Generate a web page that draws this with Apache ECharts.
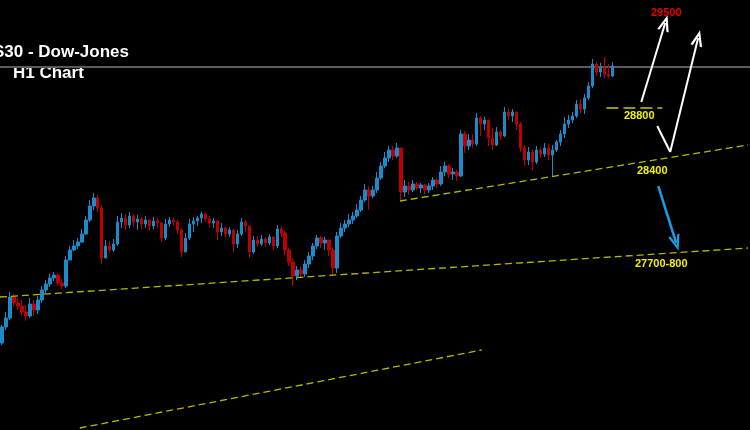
<!DOCTYPE html>
<html>
<head>
<meta charset="utf-8">
<script src="https://cdn.jsdelivr.net/npm/echarts@6/dist/echarts.min.js"></script>
<style>
  html, body { margin: 0; padding: 0; background: #000; }
  #chart { width: 750px; height: 430px; }
</style>
</head>
<body>
<div id="chart"></div>
<script>
// H1 candles, US30 (price units)
const firstOpen = 26956;
const closes = [27084, 27156, 27324, 27276, 27252, 27204, 27172, 27268, 27220, 27300,
  27380, 27428, 27476, 27500, 27436, 27412, 27620, 27700, 27732, 27764,
  27828, 27940, 28052, 28116, 28036, 27636, 27732, 27700, 27748, 27924,
  27956, 27900, 27972, 27924, 27948, 27908, 27940, 27892, 27932, 27916,
  27796, 27908, 27940, 27924, 27860, 27684, 27796, 27908, 27932, 27956,
  27988, 27948, 27916, 27932, 27844, 27876, 27828, 27860, 27748, 27828,
  27924, 27892, 27684, 27780, 27748, 27788, 27756, 27804, 27732, 27868,
  27836, 27700, 27604, 27492, 27540, 27508, 27588, 27652, 27732, 27796,
  27756, 27780, 27700, 27556, 27812, 27876, 27908, 27940, 27972, 28020,
  28100, 28180, 28132, 28180, 28276, 28372, 28436, 28500, 28452, 28516,
  28164, 28212, 28180, 28228, 28196, 28220, 28180, 28212, 28260, 28228,
  28324, 28372, 28308, 28324, 28292, 28628, 28532, 28580, 28548, 28756,
  28708, 28740, 28596, 28540, 28644, 28612, 28804, 28772, 28804, 28708,
  28516, 28420, 28484, 28404, 28500, 28468, 28516, 28460, 28500, 28564,
  28628, 28708, 28740, 28772, 28868, 28828, 28916, 29012, 29188, 29124,
  29156, 29108, 29092, 29172];
const highs = [27100, 27204, 27364, 27348, 27316, 27300, 27260, 27316, 27300, 27332,
  27412, 27460, 27508, 27524, 27516, 27468, 27652, 27732, 27780, 27796,
  27868, 27972, 28100, 28156, 28140, 28060, 27780, 27772, 27788, 27972,
  27996, 27988, 28004, 27988, 27980, 27964, 27972, 27948, 27964, 27956,
  27924, 27948, 27964, 27956, 27940, 27876, 27836, 27948, 27964, 27972,
  28004, 27996, 27972, 27956, 27940, 27916, 27884, 27884, 27868, 27860,
  27956, 27940, 27892, 27812, 27812, 27820, 27804, 27828, 27812, 27900,
  27892, 27852, 27716, 27636, 27572, 27564, 27620, 27684, 27756, 27820,
  27812, 27804, 27780, 27724, 27844, 27916, 27940, 27988, 28004, 28068,
  28132, 28228, 28212, 28212, 28324, 28404, 28484, 28532, 28532, 28556,
  28500, 28260, 28244, 28260, 28244, 28236, 28228, 28236, 28284, 28276,
  28372, 28404, 28388, 28356, 28340, 28660, 28652, 28628, 28628, 28796,
  28772, 28764, 28724, 28676, 28684, 28660, 28844, 28836, 28828, 28804,
  28724, 28540, 28524, 28500, 28532, 28524, 28556, 28548, 28540, 28580,
  28660, 28764, 28780, 28804, 28900, 28908, 28948, 29044, 29228, 29204,
  29196, 29244, 29188, 29204];
const lows = [26940, 27060, 27140, 27252, 27220, 27172, 27132, 27156, 27172, 27188,
  27276, 27356, 27404, 27452, 27412, 27388, 27396, 27628, 27692, 27708,
  27756, 27820, 27924, 28020, 28004, 27588, 27652, 27676, 27684, 27732,
  27876, 27860, 27876, 27884, 27860, 27868, 27876, 27852, 27868, 27876,
  27764, 27780, 27884, 27892, 27828, 27644, 27700, 27780, 27844, 27892,
  27916, 27924, 27884, 27876, 27780, 27812, 27796, 27804, 27684, 27716,
  27812, 27844, 27636, 27668, 27724, 27732, 27724, 27740, 27700, 27716,
  27804, 27660, 27572, 27412, 27460, 27476, 27484, 27556, 27620, 27708,
  27716, 27700, 27652, 27492, 27516, 27796, 27844, 27884, 27908, 27956,
  28004, 28084, 28020, 28116, 28156, 28260, 28356, 28404, 28420, 28436,
  28100, 28124, 28140, 28164, 28180, 28156, 28148, 28156, 28180, 28196,
  28212, 28292, 28276, 28260, 28252, 28284, 28476, 28500, 28516, 28532,
  28612, 28660, 28532, 28500, 28532, 28580, 28604, 28740, 28724, 28660,
  28484, 28372, 28380, 28340, 28388, 28436, 28444, 28420, 28284, 28484,
  28532, 28596, 28676, 28716, 28756, 28796, 28788, 28900, 28996, 29092,
  29084, 29076, 29076, 29084];

// drawn levels and arrows: [bar position, price]
const lastPrice = 29164;
const supportLong = [[0, 27324], [187.5, 27716]];
const supportShort = [[100.25, 28092], [187.5, 28540]];
const channelLow = [[20, 26276], [120.75, 26900]];
const level28800 = [[152, 28836], [166, 28836]];
const arrowUp1 = [[160.75, 28884], [166.75, 29516]];
const arrowDipUp = [[164.75, 28692], [168, 28484], [175, 29396]];
const arrowDown = [[165, 28212], [169.5, 27756]];
const levelLabels = [
  { name: '29500', coord: [167, 29596], color: '#e60000' },
  { name: '28800', coord: [160.25, 28772], color: '#f0f000' },
  { name: '28400', coord: [163.5, 28332], color: '#f0f000' },
  { name: '27700-800', coord: [165.75, 27588], color: '#f0f000' }
];
const barCount = 188;

const myChart = echarts.init(document.getElementById('chart'));

const opens = [firstOpen].concat(closes.slice(0, -1));
const candles = closes.map((c, i) => [opens[i], c, lows[i], highs[i]]);
const cats = [];
for (let i = 0; i < barCount; i++) cats.push(String(i));

// open V arrow head, tip up
const chevron = 'path://M6,0 L12,15 L9.6,15 L6,5.5 L2.4,15 L0,15 Z';
const yellowDash = { color: '#b8b800', width: 1.3, type: [7, 4] };

const seg = (pts, color, width, last) => pts.slice(1).map((p, k) => [
  { coord: pts[k], symbol: 'none' },
  { coord: p, symbol: (k === pts.length - 2 && last) ? chevron : 'none', symbolSize: [12, 16], lineStyle: { color: color, width: width, type: 'solid' } }
]);

const option = {
  backgroundColor: '#000',
  animation: false,
  grid: { left: 0, top: 0, width: 752, height: 430 },
  xAxis: [
    { type: 'category', data: cats, show: false, boundaryGap: true },
    { type: 'value', min: 0, max: barCount, show: false }
  ],
  yAxis: { type: 'value', min: 26260, max: 29700, show: false, splitLine: { show: false } },
  graphic: [
    { type: 'text', right: 621, top: 44, style: { text: 'US30 - Dow-Jones', fill: '#fff', font: 'bold 17px "Liberation Sans", Arial' } },
    { type: 'text', left: 13, top: 65, style: { text: 'H1 Chart', fill: '#fff', font: 'bold 17px "Liberation Sans", Arial' } }
  ],
  series: [
    {
      type: 'line', xAxisIndex: 1, data: [[0, lastPrice], [barCount, lastPrice]],
      symbol: 'none', silent: true, lineStyle: { color: '#585b60', width: 2 }, z: 1
    },
    {
      type: 'candlestick', xAxisIndex: 0, data: candles, barWidth: 3,
      itemStyle: { color: '#1a8ccc', color0: '#c00000', borderColor: '#1a8ccc', borderColor0: '#c00000', borderWidth: 1 },
      z: 2
    },
    { type: 'line', xAxisIndex: 1, data: supportLong, symbol: 'none', lineStyle: yellowDash, z: 3 },
    { type: 'line', xAxisIndex: 1, data: supportShort, symbol: 'none', lineStyle: yellowDash, z: 3 },
    { type: 'line', xAxisIndex: 1, data: channelLow, symbol: 'none', lineStyle: yellowDash, z: 3 },
    {
      type: 'line', xAxisIndex: 1, data: level28800, symbol: 'none',
      lineStyle: { color: '#c8c800', width: 1.3, type: [12, 5] }, z: 3,
      markLine: {
        silent: true, animation: false, label: { show: false },
        lineStyle: { color: '#fff', width: 2, type: 'solid' },
        data: [].concat(seg(arrowUp1, '#fff', 2, true), seg(arrowDipUp, '#fff', 2, true), seg(arrowDown, '#1e9be0', 2.5, true))
      },
      markPoint: {
        silent: true, symbol: 'circle', symbolSize: 0,
        data: levelLabels.map(d => ({
          name: d.name, coord: d.coord,
          label: { show: true, position: 'inside', formatter: '{b}', color: d.color, fontWeight: 'bold', fontSize: 11, fontFamily: '"Liberation Sans", Arial' }
        }))
      }
    }
  ]
};
myChart.setOption(option);
</script>
</body>
</html>
